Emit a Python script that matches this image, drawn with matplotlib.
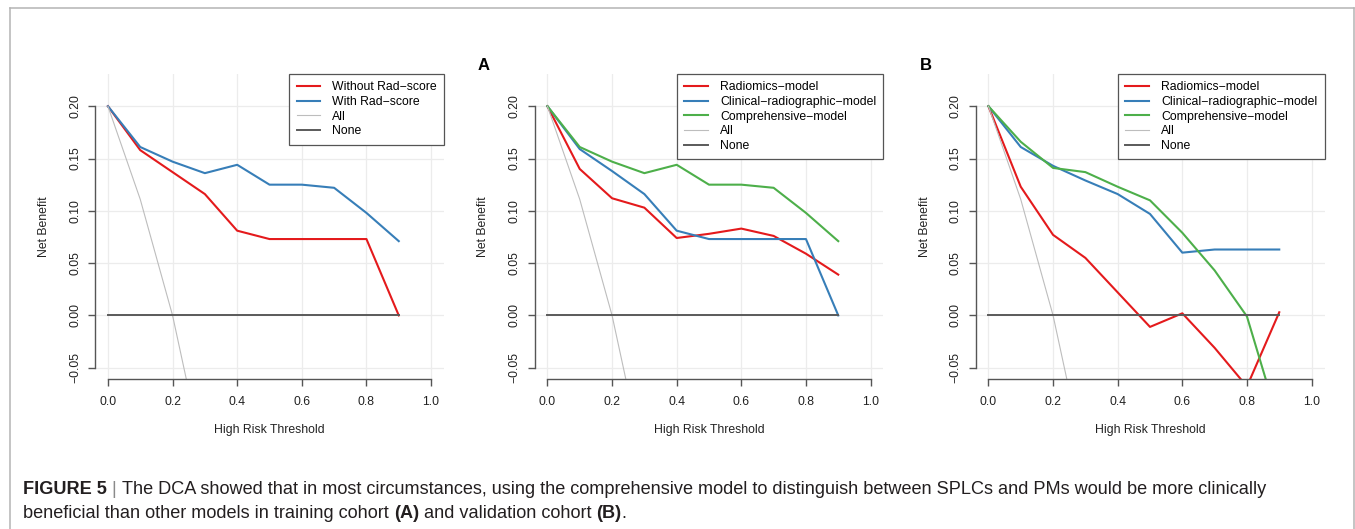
import matplotlib
matplotlib.use('Agg')
import matplotlib.pyplot as plt
from matplotlib.lines import Line2D

plt.rcParams['font.family'] = ['Liberation Sans', 'DejaVu Sans']

# Limiares avaliados (eixo x)
thresholds = [0.0, 0.1, 0.2, 0.3, 0.4, 0.5, 0.6, 0.7, 0.8, 0.9]

# Referências: tratar todos / nenhum
treat_all = [0.2, 0.111, 0.0, -0.143, -0.333, -0.6, -1.0, -1.667, -3.0, -7.0]
treat_none = [0.0, 0.0, 0.0, 0.0, 0.0, 0.0, 0.0, 0.0, 0.0, 0.0]

# Painel 1
without_rad = [0.2, 0.158, 0.137, 0.116, 0.081, 0.073, 0.073, 0.073, 0.073, 0.0]
with_rad = [0.2, 0.161, 0.147, 0.136, 0.144, 0.125, 0.125, 0.122, 0.098, 0.071]

# Painel A (treino)
radiomics_a = [0.2, 0.140, 0.112, 0.103, 0.074, 0.078, 0.083, 0.076, 0.059, 0.039]
clinical_a = [0.2, 0.159, 0.138, 0.116, 0.081, 0.073, 0.073, 0.073, 0.073, 0.0]
comprehensive_a = [0.2, 0.161, 0.147, 0.136, 0.144, 0.125, 0.125, 0.122, 0.098, 0.071]

# Painel B (validação)
radiomics_b = [0.2, 0.123, 0.077, 0.055, 0.022, -0.011, 0.002, -0.031, -0.068, 0.003]
clinical_b = [0.2, 0.161, 0.143, 0.129, 0.116, 0.097, 0.060, 0.063, 0.063, 0.063]
comprehensive_b = [0.2, 0.166, 0.141, 0.137, 0.123, 0.110, 0.079, 0.043, -0.001, -0.104]

x_ticks = [0.0, 0.2, 0.4, 0.6, 0.8, 1.0]
y_ticks = [-0.05, 0.0, 0.05, 0.10, 0.15, 0.20]

RED = '#E41A1C'
BLUE = '#377EB8'
GREEN = '#4DAF4A'
AXCOL = '#555555'
FS = 8.8

W, H = 1355, 529
fig = plt.figure(figsize=(W / 100, H / 100), dpi=100)

# moldura cinza da figura
fig.add_artist(Line2D([9.5 / W, 9.5 / W], [0, 1 - 7.5 / H], color='#b4b4b4', lw=1.1))
fig.add_artist(Line2D([9.5 / W, 1353.5 / W], [1 - 7.5 / H, 1 - 7.5 / H], color='#b4b4b4', lw=1.1))
fig.add_artist(Line2D([1353.5 / W, 1353.5 / W], [0, 1 - 7.5 / H], color='#b4b4b4', lw=1.1))


def dca_panel(left, series):
    ax = fig.add_axes([left / W, 150 / H, 349 / W, 305 / H])
    ax.set_xlim(-0.04, 1.04)
    ax.set_ylim(-0.0608, 0.2308)
    ax.set_xticks(x_ticks)
    ax.set_yticks(y_ticks)
    ax.set_xticklabels(['0.0', '0.2', '0.4', '0.6', '0.8', '1.0'])
    ax.set_yticklabels(['\u22120.05', '0.00', '0.05', '0.10', '0.15', '0.20'],
                       rotation=90, va='center')
    ax.grid(True, color='#ececec', lw=0.9)
    ax.set_axisbelow(True)
    for s in ['top', 'right']:
        ax.spines[s].set_visible(False)
    ax.spines['left'].set_bounds(-0.05, 0.20)
    ax.spines['bottom'].set_bounds(0.0, 1.0)
    for s in ['left', 'bottom']:
        ax.spines[s].set_color(AXCOL)
        ax.spines[s].set_linewidth(1.0)
    ax.tick_params(direction='out', length=5, width=1.0, color=AXCOL,
                   labelsize=FS, labelcolor='#222222')
    ax.tick_params(axis='y', pad=5)
    ax.tick_params(axis='x', pad=7.5)

    for label, vals, col in series:
        ax.plot(thresholds, vals, color=col, lw=1.5, label=label)
    ax.plot(thresholds, treat_all, color='#bdbdbd', lw=0.8, label='All')
    ax.plot(thresholds, treat_none, color='#5a5a5a', lw=1.4, label='None')

    ax.set_xlabel('High Risk Threshold', fontsize=FS, color='#222222', va='center')
    ax.set_ylabel('Net Benefit', fontsize=FS, color='#222222', va='center')
    ax.xaxis.set_label_coords(0.5, -51 / 305)
    ax.yaxis.set_label_coords(-51 / 349, 0.5)

    leg = ax.legend(loc='upper right', bbox_to_anchor=(1, 1), borderaxespad=0,
                    fancybox=False, framealpha=1, edgecolor=AXCOL, fontsize=FS,
                    handlelength=1.9, handletextpad=1.0, labelspacing=0.22,
                    borderpad=0.6)
    leg.get_frame().set_linewidth(0.9)
    return ax


dca_panel(95, [('Without Rad\u2212score', without_rad, RED),
               ('With Rad\u2212score', with_rad, BLUE)])
dca_panel(534.5, [('Radiomics\u2212model', radiomics_a, RED),
                  ('Clinical\u2212radiographic\u2212model', clinical_a, BLUE),
                  ('Comprehensive\u2212model', comprehensive_a, GREEN)])
dca_panel(975.5, [('Radiomics\u2212model', radiomics_b, RED),
                  ('Clinical\u2212radiographic\u2212model', clinical_b, BLUE),
                  ('Comprehensive\u2212model', comprehensive_b, GREEN)])

fig.text(484 / W, 1 - 65 / H, 'A', fontsize=12, fontweight='bold', ha='center', va='center')
fig.text(926 / W, 1 - 65 / H, 'B', fontsize=12, fontweight='bold', ha='center', va='center')

# legenda da figura com partes em negrito
cap = fig.add_axes([0, 0, 1, 1])
cap.set_axis_off()
CFS = 13.1
CCOL = '#231f20'


def caption_line(y, parts):
    prev = None
    for txt, bold, col in parts:
        kw = dict(fontsize=CFS, color=col, fontweight='bold' if bold else 'normal',
                  ha='left', va='bottom')
        if prev is None:
            prev = cap.annotate(txt, xy=(23 / W, y), xycoords='figure fraction', **kw)
        else:
            prev = cap.annotate(txt, xy=(1, 0), xycoords=prev, **kw)


caption_line(1 - 498 / H, [('FIGURE 5', True, CCOL), (' | ', False, '#8a8a8a'),
                           ('The DCA showed that in most circumstances, using the comprehensive model '
                            'to distinguish between SPLCs and PMs would be more clinically', False, CCOL)])
caption_line(1 - 522 / H, [('beneficial than other models in training cohort ', False, CCOL),
                           ('(A)', True, CCOL), (' and validation cohort ', False, CCOL),
                           ('(B)', True, CCOL), ('.', False, CCOL)])

fig.savefig('out.png', dpi=100)
plt.close(fig)
